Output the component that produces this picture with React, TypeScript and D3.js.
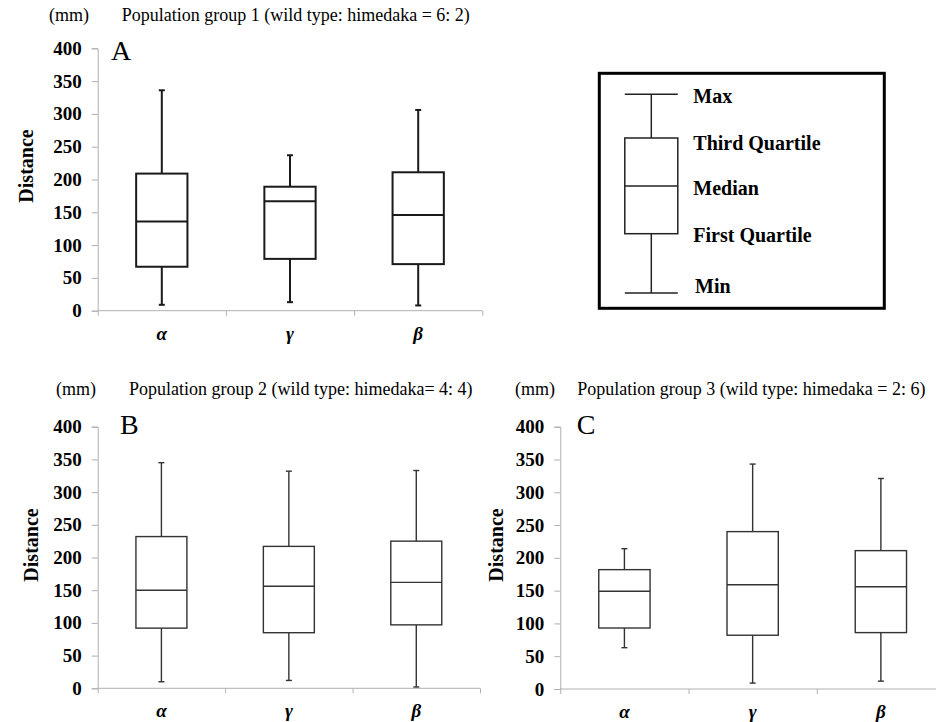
import React, { useEffect, useRef } from 'react';
import * as d3 from 'd3';

// each row: [min, first quartile, median, third quartile, max]
const categories = ['α', 'γ', 'β'];
const group1 = [[9, 67, 136, 209, 336], [13, 79, 167, 189, 237], [8, 71, 146, 211, 306]];
const group2 = [[10, 92, 150, 232, 345], [12, 85, 156, 217, 332], [2, 97, 162, 225, 333]];
const group3 = [[63, 93, 149, 182, 214], [9, 82, 159, 240, 343], [12, 86, 156, 211, 321]];
const yTicks = [0, 50, 100, 150, 200, 250, 300, 350, 400];
const legendLabels = ['Max', 'Third Quartile', 'Median', 'First Quartile', 'Min'];

const FONT = '"Liberation Serif", "Times New Roman", serif';

const panels = [
  { data: group1, letter: 'A', title: 'Population group 1 (wild type: himedaka = 6: 2)',
    left: 97.7, right: 482.3, top: 48.3, bottom: 310.7, stroke: '#1a1a1a', sw: 2,
    mmX: 49, titleX: 121.7, titleY: 21, letterX: 111, letterY: 60, distX: 33, distY: 166 },
  { data: group2, letter: 'B', title: 'Population group 2 (wild type: himedaka= 4: 4)',
    left: 97.7, right: 480, top: 426.7, bottom: 688.3, stroke: '#333', sw: 1.4,
    mmX: 56, titleX: 129, titleY: 395, letterX: 120, letterY: 434, distX: 38, distY: 545 },
  { data: group3, letter: 'C', title: 'Population group 3 (wild type: himedaka = 2: 6)',
    left: 560.3, right: 945, top: 426.7, bottom: 689, stroke: '#333', sw: 1.4,
    mmX: 515, titleX: 577.3, titleY: 395, letterX: 576.7, letterY: 434, distX: 503, distY: 545 },
];

const App = () => {
  const ref = useRef<SVGSVGElement>(null);

  useEffect(() => {
    const svg = d3.select(ref.current);
    svg.selectAll('*').remove();

    panels.forEach(p => {
      const g = svg.append('g');
      const y = d3.scaleLinear().domain([0, 400]).range([p.bottom, p.top]);
      const x = d3.scaleBand().domain(categories).range([p.left, p.right]);
      const edges = d3.scaleLinear().domain([0, 3]).range([p.left, p.right]);

      // y axis
      const ya = g.append('g').attr('transform', `translate(${p.left},0)`)
        .call(d3.axisLeft(y).tickValues(yTicks).tickSize(6).tickPadding(10).tickFormat(d3.format('d')));
      ya.select('.domain').attr('stroke', '#b0b0b0');
      ya.selectAll('.tick line').attr('stroke', '#b0b0b0');
      ya.selectAll('.tick text').attr('fill', '#000').style('font', `bold 19px ${FONT}`);

      // x axis, ticks on category boundaries
      const xa = g.append('g').attr('transform', `translate(0,${p.bottom})`)
        .call(d3.axisBottom(edges).tickValues([0, 1, 2, 3]).tickSize(5).tickFormat(() => ''));
      xa.select('.domain').attr('stroke', '#b0b0b0').attr('d', `M${p.left},0H${p.right}`);
      xa.selectAll('.tick line').attr('stroke', '#b0b0b0');

      g.selectAll('.xl').data(categories).enter().append('text')
        .attr('x', d => x(d)! + x.bandwidth() / 2)
        .attr('y', p.bottom + 29)
        .attr('text-anchor', 'middle')
        .style('font', `italic bold 19px ${FONT}`)
        .text(d => d);

      // boxes
      const bw = x.bandwidth() * 0.4;
      const cap = 6;
      const boxes = g.selectAll('.box').data(p.data).enter().append('g')
        .attr('stroke', p.stroke).attr('stroke-width', p.sw).attr('fill', 'none');
      boxes.each(function (d, i) {
        const b = d3.select(this);
        const cx = x(categories[i])! + x.bandwidth() / 2;
        b.append('line').attr('x1', cx).attr('x2', cx).attr('y1', y(d[0])).attr('y2', y(d[1]));
        b.append('line').attr('x1', cx).attr('x2', cx).attr('y1', y(d[3])).attr('y2', y(d[4]));
        b.append('line').attr('x1', cx - cap / 2).attr('x2', cx + cap / 2).attr('y1', y(d[0])).attr('y2', y(d[0]));
        b.append('line').attr('x1', cx - cap / 2).attr('x2', cx + cap / 2).attr('y1', y(d[4])).attr('y2', y(d[4]));
        b.append('rect').attr('x', cx - bw / 2).attr('width', bw)
          .attr('y', y(d[3])).attr('height', y(d[1]) - y(d[3])).attr('fill', '#fff');
        b.append('line').attr('x1', cx - bw / 2).attr('x2', cx + bw / 2).attr('y1', y(d[2])).attr('y2', y(d[2]));
      });

      // labels
      g.append('text').attr('x', p.mmX).attr('y', p.titleY).style('font', `18px ${FONT}`).text('(mm)');
      g.append('text').attr('x', p.titleX).attr('y', p.titleY).style('font', `18px ${FONT}`).text(p.title);
      g.append('text').attr('x', p.letterX).attr('y', p.letterY).style('font', `28px ${FONT}`).text(p.letter);
      g.append('text')
        .attr('transform', `translate(${p.distX},${p.distY}) rotate(-90)`)
        .attr('text-anchor', 'middle')
        .style('font', `bold 20px ${FONT}`)
        .text('Distance');
    });

    // legend
    const lg = svg.append('g');
    lg.append('rect').attr('x', 599.3).attr('y', 73.3).attr('width', 285).attr('height', 235)
      .attr('fill', 'none').attr('stroke', '#000').attr('stroke-width', 3);
    const lx = 651.3, lw = 53;
    const ly = [94.3, 138, 186, 233.7, 293];
    const s = lg.append('g').attr('stroke', '#222').attr('stroke-width', 1.5).attr('fill', 'none');
    s.append('line').attr('x1', lx - lw / 2).attr('x2', lx + lw / 2).attr('y1', ly[0]).attr('y2', ly[0]);
    s.append('line').attr('x1', lx).attr('x2', lx).attr('y1', ly[0]).attr('y2', ly[1]);
    s.append('rect').attr('x', lx - lw / 2).attr('y', ly[1]).attr('width', lw).attr('height', ly[3] - ly[1]);
    s.append('line').attr('x1', lx - lw / 2).attr('x2', lx + lw / 2).attr('y1', ly[2]).attr('y2', ly[2]);
    s.append('line').attr('x1', lx).attr('x2', lx).attr('y1', ly[3]).attr('y2', ly[4]);
    s.append('line').attr('x1', lx - lw / 2).attr('x2', lx + lw / 2).attr('y1', ly[4]).attr('y2', ly[4]);
    const textY = [103, 150, 195, 242, 293];
    lg.selectAll('.lt').data(legendLabels).enter().append('text')
      .attr('x', (_, i) => (i === 4 ? 695 : 693.3))
      .attr('y', (_, i) => textY[i])
      .style('font', `bold 20px ${FONT}`)
      .text(d => d);
  }, []);

  return (
    <svg ref={ref} width={936} height={722}
      style={{ position: 'absolute', left: 0, top: 0, background: '#fff' }} />
  );
};

export default App;
